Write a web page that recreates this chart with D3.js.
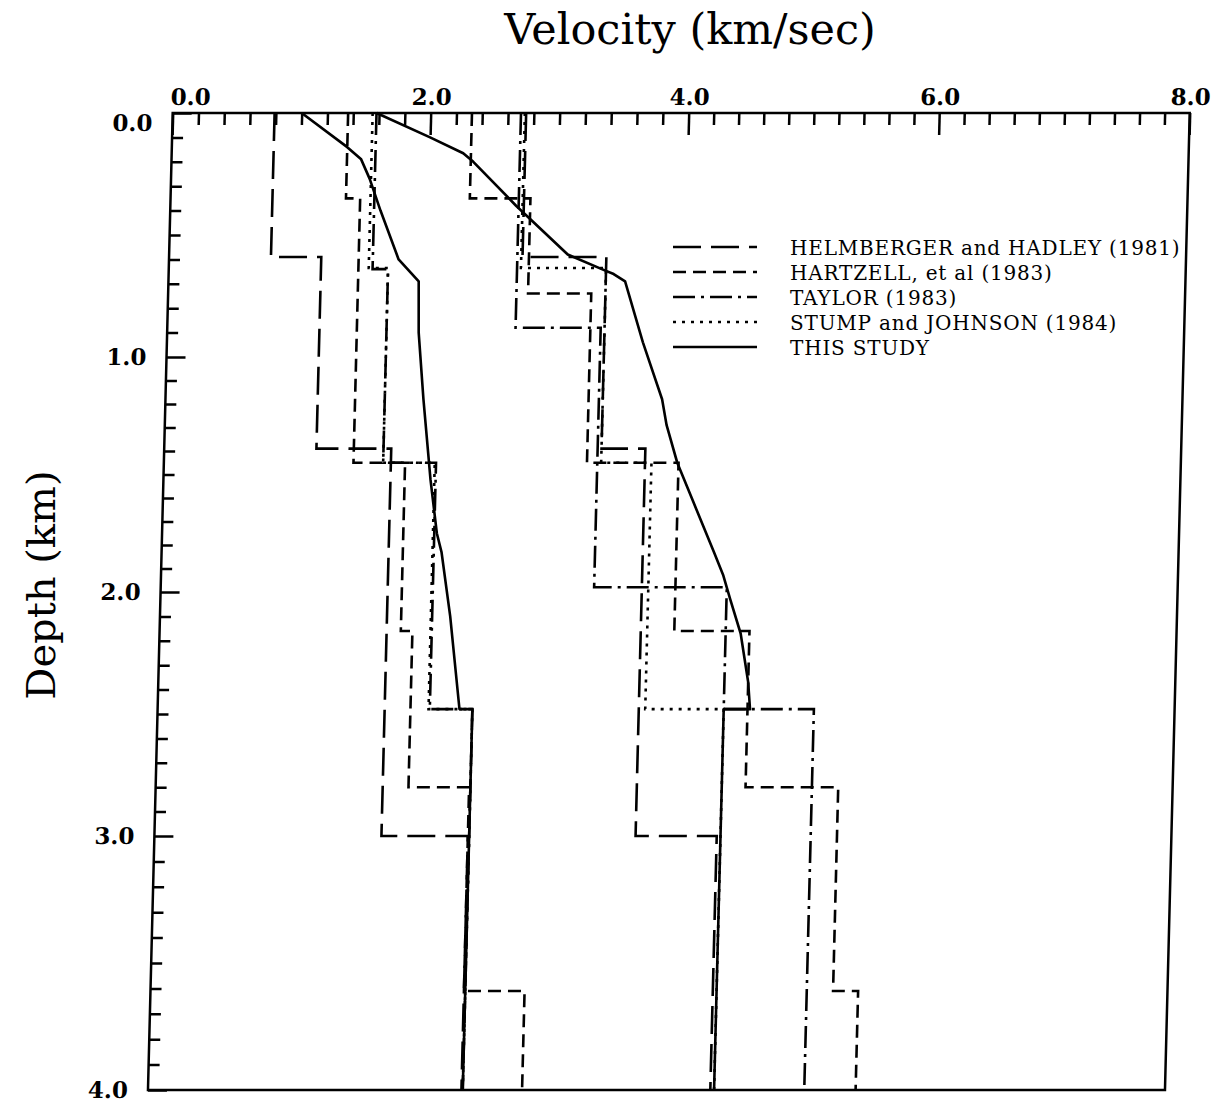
<!DOCTYPE html>
<html>
<head>
<meta charset="utf-8">
<script src="https://cdn.jsdelivr.net/npm/d3@7"></script>
<style>
body { margin: 0; background: #fff; }
</style>
</head>
<body>
<svg></svg>
<script>
// tick labels
var velTicks = [0, 2, 4, 6, 8];
var depthTicks = [0, 1, 2, 3, 4];

// layered models: [top depth, bottom depth, velocity]
var helmS  = [[0, 0.59, 0.79], [0.59, 1.39, 1.18], [1.39, 3.0, 1.76], [3.0, 4.0, 2.43]];
var helmP  = [[0, 0.59, 2.74], [0.59, 1.39, 3.39], [1.39, 3.0, 3.73], [3.0, 4.0, 4.37]];
var hartS  = [[0, 0.35, 1.36], [0.35, 1.45, 1.47], [1.45, 2.16, 1.87], [2.16, 2.80, 1.96], [2.80, 3.61, 2.43], [3.61, 4.0, 2.90]];
var hartP  = [[0, 0.35, 2.32], [0.35, 0.74, 2.79], [0.74, 1.45, 3.28], [1.45, 2.16, 3.99], [2.16, 2.80, 4.59], [2.80, 3.61, 5.33], [3.61, 4.0, 5.53]];
var taylS  = [[0, 0.64, 1.58], [0.64, 1.45, 1.70], [1.45, 2.48, 2.11], [2.48, 4.0, 2.44]];
var taylP  = [[0, 0.88, 2.70], [0.88, 1.98, 3.36], [1.98, 2.48, 4.40], [2.48, 4.0, 5.12]];
var stumpS = [[0, 0.635, 1.55], [0.635, 1.45, 1.70], [1.45, 2.48, 2.10], [2.48, 4.0, 2.44]];
var stumpP = [[0, 0.635, 2.73], [0.635, 1.45, 3.39], [1.45, 2.48, 3.78], [2.48, 4.0, 4.40]];

// this study: [velocity, depth]
var studyS = [[1.00, 0], [1.36, 0.14], [1.47, 0.19], [1.54, 0.27], [1.63, 0.40], [1.78, 0.60],
              [1.94, 0.69], [1.95, 0.90], [2.00, 1.18], [2.07, 1.52], [2.13, 1.75], [2.17, 1.83],
              [2.25, 2.10], [2.34, 2.48], [2.44, 2.48], [2.44, 4.0]];
var studyP = [[1.58, 0], [2.00, 0.10], [2.26, 0.165], [2.34, 0.20], [2.68, 0.38], [3.09, 0.58],
              [3.38, 0.645], [3.45, 0.66], [3.54, 0.69], [3.69, 0.94], [3.85, 1.18], [3.89, 1.29],
              [3.98, 1.45], [4.11, 1.61], [4.29, 1.83], [4.37, 1.93], [4.43, 2.03], [4.52, 2.17],
              [4.59, 2.37], [4.61, 2.48], [4.40, 2.48], [4.40, 4.0]];

var legendLabels = ["HELMBERGER and HADLEY (1981)", "HARTZELL, et  al (1983)", "TAYLOR (1983)",
                    "STUMP and JOHNSON (1984)", "THIS STUDY"];
var dashes = ["28,10", "13,7", "22,6,3,6", "3,6", null];

var width = 1222, height = 1110;

var svg = d3.select("svg")
    .attr("width", width)
    .attr("height", height);

// scanned figure leans a little to the left going down
var plot = svg.append("g")
    .attr("transform", "translate(172.7,113) skewX(-1.45)");

var x = d3.scaleLinear().domain([0, 4, 8]).range([0, 516, 1017]);
var y = d3.scaleLinear().domain([0, 1, 2, 3, 4]).range([0, 244, 479, 723, 977]);

function steps(layers) {
    var pts = [];
    layers.forEach(function(l) {
        pts.push([l[2], l[0]]);
        pts.push([l[2], l[1]]);
    });
    return pts;
}

var line = d3.line()
    .x(function(d) { return x(d[0]); })
    .y(function(d) { return y(d[1]); });

// frame
plot.append("path")
    .attr("d", "M" + x(0) + "," + y(0) + "H" + x(8) + "V" + y(4) + "H" + x(0) + "Z")
    .attr("fill", "none")
    .attr("stroke", "#000")
    .attr("stroke-width", 2.5);

// top ticks
var topAxis = plot.append("g")
    .call(d3.axisTop(x).tickValues(d3.range(0, 41).map(function(i) { return i / 5; }))
        .tickSize(-12).tickFormat(""));
topAxis.select(".domain").remove();
topAxis.selectAll(".tick line")
    .attr("stroke-width", 2.5)
    .filter(function(d) { return velTicks.indexOf(Math.round(d * 10) / 10) > -1; })
    .attr("y2", 22);

var topLabels = plot.append("g")
    .call(d3.axisTop(x).tickValues(velTicks).tickSize(0).tickPadding(8).tickFormat(d3.format(".1f")));
topLabels.select(".domain").remove();
topLabels.selectAll("text")
    .attr("font-family", "DejaVu Serif")
    .attr("font-weight", "bold")
    .attr("font-size", 23)
    .attr("fill", "#000")
    .filter(function(d) { return d === 0; })
    .attr("text-anchor", "start")
    .attr("dx", -3);

// left ticks
var leftAxis = plot.append("g")
    .call(d3.axisLeft(y).tickValues(d3.range(0, 41).map(function(i) { return i / 10; }))
        .tickSize(-11).tickFormat(""));
leftAxis.select(".domain").remove();
leftAxis.selectAll(".tick line")
    .attr("stroke-width", 2.5)
    .filter(function(d) { return depthTicks.indexOf(Math.round(d * 10) / 10) > -1; })
    .attr("x2", 19);

var leftLabels = plot.append("g")
    .call(d3.axisLeft(y).tickValues(depthTicks).tickSize(0).tickPadding(20).tickFormat(d3.format(".1f")));
leftLabels.select(".domain").remove();
leftLabels.selectAll("text")
    .attr("font-family", "DejaVu Serif")
    .attr("font-weight", "bold")
    .attr("font-size", 23)
    .attr("fill", "#000")
    .filter(function(d) { return d === 0; })
    .attr("dy", "0.75em");

// models
var models = [
    [helmS, helmP],
    [hartS, hartP],
    [taylS, taylP],
    [stumpS, stumpP]
];

models.forEach(function(m, i) {
    m.forEach(function(layers) {
        plot.append("path")
            .attr("d", line(steps(layers)))
            .attr("fill", "none")
            .attr("stroke", "#000")
            .attr("stroke-width", 2.6)
            .attr("stroke-dasharray", dashes[i]);
    });
});

[studyS, studyP].forEach(function(pts) {
    plot.append("path")
        .attr("d", line(pts))
        .attr("fill", "none")
        .attr("stroke", "#000")
        .attr("stroke-width", 2.6)
        .attr("stroke-linejoin", "round");
});

// legend
var legend = svg.append("g").attr("transform", "translate(673,247)");
legendLabels.forEach(function(lbl, i) {
    var row = legend.append("g").attr("transform", "translate(0," + (i * 25) + ")");
    row.append("line")
        .attr("x1", 0).attr("x2", 84)
        .attr("stroke", "#000")
        .attr("stroke-width", 2.5)
        .attr("stroke-dasharray", dashes[i]);
    row.append("text")
        .attr("x", 117)
        .attr("y", 8)
        .attr("font-family", "DejaVu Serif")
        .attr("font-size", 20)
        .attr("letter-spacing", 0.8)
        .text(lbl);
});

// titles
svg.append("text")
    .attr("x", 690)
    .attr("y", 44)
    .attr("text-anchor", "middle")
    .attr("font-family", "DejaVu Serif")
    .attr("font-size", 43)
    .text("Velocity (km/sec)");

svg.append("text")
    .attr("transform", "translate(55,585) rotate(-90)")
    .attr("text-anchor", "middle")
    .attr("font-family", "DejaVu Serif")
    .attr("font-size", 40)
    .text("Depth (km)");
</script>
</body>
</html>
